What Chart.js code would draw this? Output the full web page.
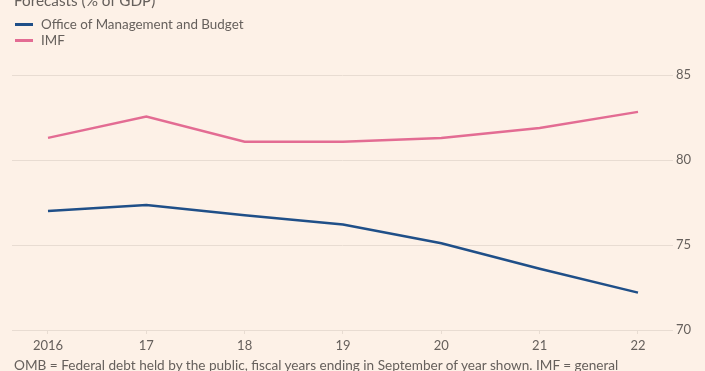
<!DOCTYPE html>
<html><head><meta charset="utf-8">
<script src="https://cdn.jsdelivr.net/npm/chart.js@4"></script>
<style>
html,body{margin:0;padding:0;background:#fdf1e7;overflow:hidden;}
#wrap{position:relative;width:705px;height:371px;}
canvas{position:absolute;left:0;top:0;}
.txt{position:absolute;font-family:Lato,"Open Sans",sans-serif;color:#66605c;white-space:nowrap;}
#title{left:14px;top:-9px;font-size:15.3px;}
#foot{left:14px;top:357px;font-size:13.6px;}
.leg{position:absolute;left:15px;font-family:Lato,sans-serif;font-size:13.4px;color:#66605c;}
.sw{display:inline-block;width:18px;height:3px;vertical-align:middle;margin-right:8px;position:relative;top:-1px;}
</style></head>
<body><div id="wrap">
<canvas id="c" width="705" height="371"></canvas>
<div class="txt" id="title">Forecasts (% of GDP)</div>
<div class="leg" style="top:16px"><span class="sw" style="background:#1f4f88"></span>Office of Management and Budget</div>
<div class="leg" style="top:32px"><span class="sw" style="background:#e36c93"></span>IMF</div>
<div class="txt" id="foot">OMB = Federal debt held by the public, fiscal years ending in September of year shown. IMF = general</div>
</div>
<script>
const years = [2016, 2017, 2018, 2019, 2020, 2021, 2022];
const omb = [77.0, 77.35, 76.75, 76.2, 75.1, 73.6, 72.2];
const imf = [81.3, 82.55, 81.08, 81.08, 81.3, 81.88, 82.83];
const yTicks = [70, 75, 80, 85];
const seriesNames = ['Office of Management and Budget', 'IMF'];

const pts = arr => years.map((y, i) => ({x: y, y: arr[i]}));
const grid = '#e8dcd2';
new Chart(document.getElementById('c'), {
  type: 'line',
  data: {datasets: [
    {label: seriesNames[0], data: pts(omb), borderColor: '#1f4f88', borderWidth: 2.5, pointRadius: 0, tension: 0},
    {label: seriesNames[1], data: pts(imf), borderColor: '#e36c93', borderWidth: 2.5, pointRadius: 0, tension: 0}
  ]},
  options: {
    responsive: false, animation: false,
    layout: {padding: {left: 12, top: 75, right: 0, bottom: 0}},
    plugins: {legend: {display: false}, tooltip: {enabled: false}},
    scales: {
      x: {type: 'linear', min: 2015.634, max: 2022.356,
        afterBuildTicks: s => { s.ticks = years.map(v => ({value: v})); },
        afterFit: s => { s.height = 41; },
        grid: {display: true, drawOnChartArea: false, drawTicks: true, tickLength: 4, color: grid},
        border: {display: false},
        ticks: {padding: 4, font: {family: 'Lato', size: 13}, color: '#66605c',
          callback: v => v === 2016 ? '2016' : String(v).slice(2)}
      },
      y: {position: 'right', min: 70, max: 85,
        afterBuildTicks: s => { s.ticks = yTicks.map(v => ({value: v})); },
        afterFit: s => { s.width = 32; },
        grid: {color: grid, drawTicks: false, lineWidth: 1},
        border: {display: false},
        ticks: {padding: 3, font: {family: 'Lato', size: 13}, color: '#66605c'}
      }
    }
  }
});
</script></body></html>
